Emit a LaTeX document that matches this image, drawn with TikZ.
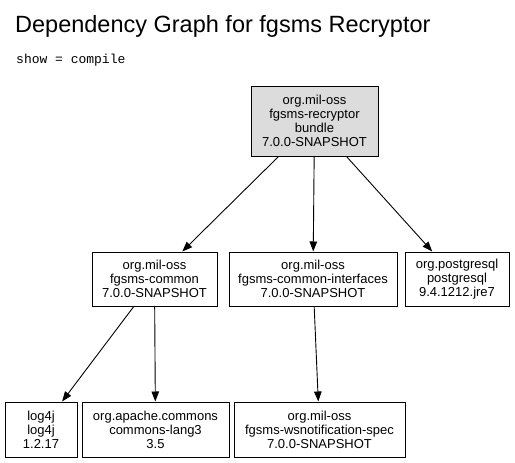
\documentclass[tikz,border=0pt]{standalone}
\usepackage{fontspec}
\setmainfont{Liberation Sans}
\newfontfamily\monofont{Liberation Mono}
\usetikzlibrary{arrows.meta}
\definecolor{rootgray}{HTML}{DCDCDC}
\begin{document}
\begin{tikzpicture}[x=1pt,y=-1pt,
  box/.style={draw=black,line width=1pt,inner sep=0pt,align=center,
    font=\fontsize{13}{14}\selectfont},
  dep/.style={draw=black,line width=0.9pt,-{Triangle[length=10pt,width=7.5pt]}}]
\useasboundingbox (0,0) rectangle (515,463);
\fill[white] (0,0) rectangle (515,463);
\node[anchor=base west,inner sep=0pt,font=\fontsize{23.5}{28}\selectfont] (title) at (15,32) {Dependency Graph for fgsms Recryptor};
\node[anchor=base west,inner sep=0pt,font=\monofont\fontsize{13}{15}\selectfont] (show) at (16,63.5) {show = compile};
\node[box,fill=rootgray,minimum width=127pt,minimum height=70pt] (root) at (314.5,121) {org.mil-oss\\fgsms-recryptor\\bundle\\7.0.0-SNAPSHOT};
\node[box,minimum width=125pt,minimum height=54pt] (common) at (154.5,279) {org.mil-oss\\fgsms-common\\7.0.0-SNAPSHOT};
\node[box,minimum width=168pt,minimum height=54pt] (iface) at (313,279) {org.mil-oss\\fgsms-common-interfaces\\7.0.0-SNAPSHOT};
\node[box,minimum width=104pt,minimum height=54pt] (pg) at (457,279) {org.postgresql\\postgresql\\9.4.1212.jre7};
\node[box,minimum width=72pt,minimum height=55pt] (log4j) at (41,429.5) {log4j\\log4j\\1.2.17};
\node[box,minimum width=147pt,minimum height=55pt] (lang) at (155.5,429.5) {org.apache.commons\\commons-lang3\\3.5};
\node[box,minimum width=171pt,minimum height=55pt] (wsn) at (319.5,429.5) {org.mil-oss\\fgsms-wsnotification-spec\\7.0.0-SNAPSHOT};
\draw[dep] (root) -- (common);
\draw[dep] (root) -- (iface);
\draw[dep] (root) -- (pg);
\draw[dep] (common) -- (log4j);
\draw[dep] (common) -- (lang);
\draw[dep] (iface) -- (wsn);
\end{tikzpicture}
\end{document}
